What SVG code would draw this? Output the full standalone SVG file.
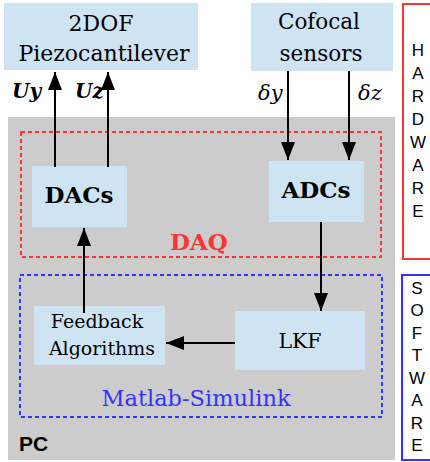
<svg xmlns="http://www.w3.org/2000/svg" width="430" height="462" viewBox="0 0 430 462">
  <style>
    .blk { fill: #cfe4f3; }
    .lbl { font-family: "DejaVu Serif", "Liberation Serif", serif; fill: #000; text-anchor: middle; }
    .bold { font-weight: bold; }
    .math { font-family: "DejaVu Serif", "Liberation Serif", serif; font-style: italic; }
    .side { font-family: "Liberation Sans", Arial, sans-serif; font-size: 17px; text-anchor: middle; fill: #000; }
    .wire { stroke: #000; stroke-width: 2; fill: none; marker-end: url(#arrow); }
  </style>
  <defs>
    <marker id="arrow" markerUnits="userSpaceOnUse" markerWidth="18" markerHeight="14" refX="18" refY="7" orient="auto">
      <path d="M0,0 L18,7 L0,14 Z" fill="#000"/>
    </marker>
  </defs>

  <!-- white page -->
  <rect width="430" height="462" fill="#fff"/>

  <!-- PC area -->
  <g id="pc">
    <rect x="8" y="117" width="387" height="343" fill="#cccccc"/>
    <text x="19" y="451" font-family="Liberation Sans, Arial, sans-serif" font-weight="bold" font-size="21">PC</text>
  </g>

  <!-- DAQ frame -->
  <g id="daq">
    <rect x="21" y="132" width="360" height="125" fill="none" stroke="#ff3333" stroke-width="2" stroke-dasharray="4 3"/>
    <text x="199" y="250" class="lbl bold" font-size="23" fill="#ff3333" style="fill:#ff3333">DAQ</text>
  </g>

  <!-- Matlab-Simulink frame -->
  <g id="simulink">
    <rect x="20" y="275" width="362" height="142" fill="none" stroke="#3333ff" stroke-width="2" stroke-dasharray="4 3"/>
    <text x="196" y="406" class="lbl" font-size="22.5" style="fill:#3333ff">Matlab-Simulink</text>
  </g>

  <!-- side bars -->
  <g id="hardware">
    <rect x="403" y="4" width="40" height="255" fill="none" stroke="#ff3333" stroke-width="2"/>
    <text class="side" x="418" y="56">H</text>
    <text class="side" x="418" y="79">A</text>
    <text class="side" x="418" y="102">R</text>
    <text class="side" x="418" y="125">D</text>
    <text class="side" x="418" y="148">W</text>
    <text class="side" x="418" y="171">A</text>
    <text class="side" x="418" y="194">R</text>
    <text class="side" x="418" y="217">E</text>
  </g>
  <g id="software">
    <rect x="402" y="275" width="40" height="185" fill="none" stroke="#3333ff" stroke-width="2"/>
    <text class="side" x="417" y="294">S</text>
    <text class="side" x="417" y="316">O</text>
    <text class="side" x="417" y="339">F</text>
    <text class="side" x="417" y="361">T</text>
    <text class="side" x="417" y="384">W</text>
    <text class="side" x="417" y="406">A</text>
    <text class="side" x="417" y="429">R</text>
    <text class="side" x="417" y="451">E</text>
  </g>

  <!-- blocks -->
  <g id="piezo">
    <rect class="blk" x="4" y="3" width="194" height="67"/>
    <text class="lbl" x="101" y="31" font-size="22">2DOF</text>
    <text class="lbl" x="104" y="61" font-size="22">Piezocantilever</text>
  </g>
  <g id="sensors">
    <rect class="blk" x="251" y="3" width="142" height="68"/>
    <text class="lbl" x="319" y="29" font-size="21.5">Cofocal</text>
    <text class="lbl" x="321" y="61" font-size="21.5">sensors</text>
  </g>
  <g id="dacs">
    <rect class="blk" x="32" y="166" width="95" height="61"/>
    <text class="lbl bold" x="79" y="203" font-size="23">DACs</text>
  </g>
  <g id="adcs">
    <rect class="blk" x="269" y="161" width="95" height="61"/>
    <text class="lbl bold" x="316" y="198" font-size="23">ADCs</text>
  </g>
  <g id="feedback">
    <rect class="blk" x="34" y="306" width="131" height="59"/>
    <text class="lbl" x="97" y="328" font-size="19">Feedback</text>
    <text class="lbl" x="102" y="355" font-size="19">Algorithms</text>
  </g>
  <g id="lkf">
    <rect class="blk" x="235" y="311" width="130" height="59"/>
    <text class="lbl" x="300" y="348" font-size="20.5">LKF</text>
  </g>

  <!-- connectors -->
  <g id="connectors">
    <path class="wire" d="M55,167 L55,72"/>
    <path class="wire" d="M108,167 L108,72"/>
    <path class="wire" d="M288,71 L288,160"/>
    <path class="wire" d="M349,71 L349,160"/>
    <path class="wire" d="M321,222 L321,311"/>
    <path class="wire" d="M235,343 L166,343"/>
    <path class="wire" d="M84,313 L84,228"/>
    <text class="math" x="12" y="98" font-size="20" font-weight="bold">U<tspan>y</tspan></text>
    <text class="math" x="75" y="98" font-size="20" font-weight="bold">Uz</text>
    <text class="math" x="258" y="100" font-size="21">δy</text>
    <text class="math" x="358" y="100" font-size="21">δz</text>
  </g>
</svg>
